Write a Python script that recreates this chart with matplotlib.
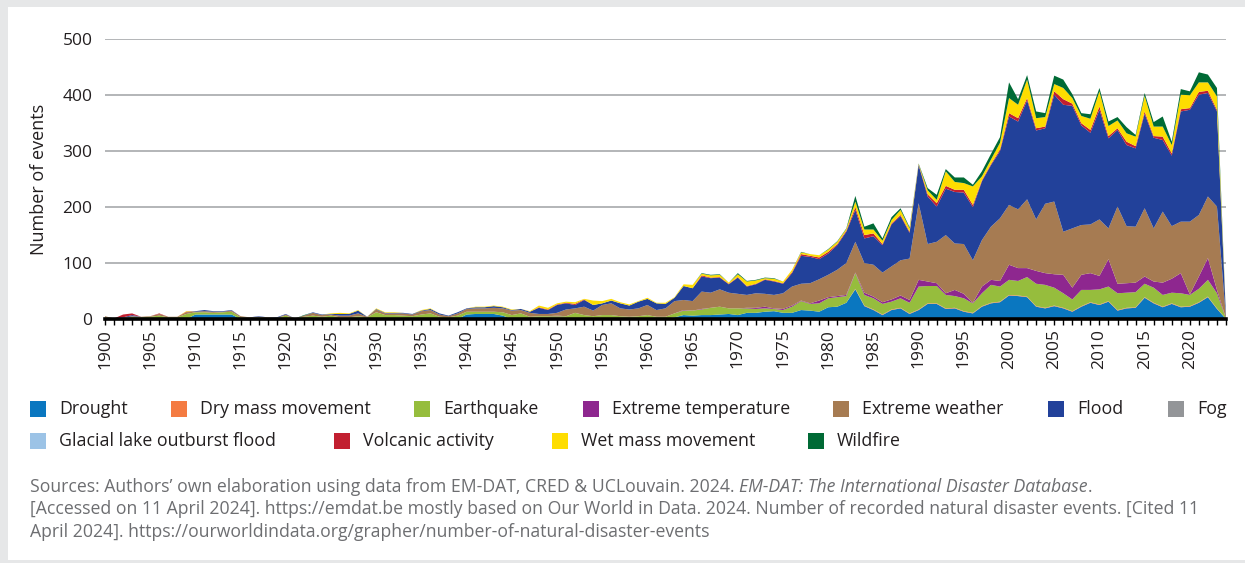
import numpy as np
import matplotlib
matplotlib.use("Agg")
import matplotlib.pyplot as plt
from matplotlib.patches import Rectangle
from matplotlib.ticker import MultipleLocator

plt.rcParams['font.family'] = ['Open Sans', 'DejaVu Sans']

years = list(range(1900, 2025))

# events per year (1900 ... 2024)
drought = [0, 0, 0, 0, 0, 0, 0, 0, 0, 0,
           8, 8, 8, 8, 8, 0, 0, 0, 0, 0,
           0, 0, 0, 0, 0, 0, 0, 0, 0, 0,
           0, 0, 0, 0, 0, 0, 0, 0, 0, 0,
           8, 9, 9, 9, 6, 0, 0, 0, 0, 0,
           0, 0, 0, 0, 0, 0, 0, 0, 0, 0,
           0, 0, 0, 3, 7, 6, 7, 7, 8, 9,
           7, 11, 11, 13, 14, 11, 11, 16, 15, 13,
           21, 22, 29, 53, 23, 16, 7, 16, 19, 9,
           16, 27, 27, 18, 19, 13, 10, 22, 28, 30,
           42, 41, 39, 22, 19, 23, 19, 13, 22, 29,
           25, 31, 15, 19, 20, 38, 28, 21, 27, 21,
           22, 29, 39, 18, 0]
dry_mass = [0] * 83 + [1] * 41 + [0]
earthquake = [3, 1, 2, 4, 3, 4, 6, 3, 3, 9,
              4, 4, 3, 4, 5, 3, 2, 3, 2, 2,
              6, 1, 4, 6, 4, 6, 3, 3, 5, 3,
              12, 7, 7, 6, 5, 8, 10, 4, 3, 6,
              5, 4, 4, 4, 6, 7, 10, 4, 5, 5,
              5, 5, 11, 7, 5, 7, 7, 5, 4, 5,
              7, 4, 4, 7, 8, 9, 10, 13, 14, 10,
              12, 8, 7, 6, 4, 5, 11, 16, 12, 15,
              16, 17, 12, 28, 19, 20, 19, 14, 17, 19,
              41, 31, 31, 24, 21, 23, 17, 23, 32, 27,
              27, 26, 35, 40, 41, 32, 26, 21, 29, 22,
              27, 26, 30, 27, 27, 24, 27, 21, 19, 24,
              20, 24, 30, 27, 1]
extreme_temp = [0] * 50 + [1] + [0] * 13 + [1, 0, 1, 0, 0, 0,
                0, 1, 2, 3, 1, 2, 2, 1, 1, 5,
                2, 2, 2, 1, 4, 3, 3, 4, 5, 5,
                12, 8, 5, 3, 11, 8, 1, 12, 9, 10,
                27, 23, 16, 23, 21, 24, 33, 21, 27, 30,
                24, 49, 17, 17, 17, 13, 11, 22, 25, 36,
                1, 22, 39, 6, 0]
extreme_weather = [2, 0, 0, 1, 1, 1, 3, 1, 1, 3,
                   1, 2, 2, 1, 2, 2, 1, 1, 1, 0,
                   2, 0, 2, 5, 3, 2, 3, 3, 5, 1,
                   5, 3, 3, 4, 3, 6, 6, 4, 2, 4,
                   5, 6, 6, 7, 7, 8, 6, 7, 4, 4,
                   5, 12, 8, 15, 10, 18, 21, 14, 13, 14,
                   18, 12, 15, 22, 18, 17, 31, 27, 31, 28,
                   26, 23, 26, 23, 24, 28, 34, 30, 36, 38,
                   40, 47, 57, 55, 53, 57, 53, 59, 63, 74,
                   137, 67, 74, 104, 83, 89, 76, 83, 95, 112,
                   107, 105, 123, 92, 124, 130, 77, 106, 89, 87,
                   101, 55, 138, 102, 100, 122, 95, 127, 94, 92,
                   130, 110, 110, 149, 1]
flood = [0, 0, 1, 2, 0, 0, 0, 0, 0, 0,
         1, 2, 1, 1, 1, 0, 0, 1, 0, 1,
         1, 0, 0, 1, 1, 1, 3, 3, 5, 0,
         1, 1, 1, 1, 1, 1, 2, 2, 1, 2,
         1, 2, 2, 3, 2, 1, 2, 2, 11, 7,
         14, 11, 6, 12, 10, 3, 5, 9, 7, 12,
         11, 12, 8, 6, 25, 23, 27, 26, 21, 15,
         29, 15, 16, 25, 24, 17, 24, 50, 47, 36,
         38, 44, 56, 57, 44, 51, 49, 75, 79, 46,
         68, 85, 63, 83, 92, 92, 95, 105, 110, 120,
         158, 157, 177, 159, 135, 191, 227, 219, 178, 164,
         196, 161, 137, 145, 140, 169, 162, 128, 126, 197,
         200, 215, 185, 170, 2]
fog = [0] * 125
glacial_flood = [0] * 125
volcanic = [0, 0, 5, 3, 0, 0, 1, 0, 0, 1,
            0, 0, 0, 0, 0, 0, 0, 0, 0, 0,
            0, 0, 0, 0, 0, 0, 0, 0, 0, 0,
            0, 0, 0, 0, 0, 0, 0, 0, 0, 0,
            0, 0, 0, 0, 0, 0, 0, 0, 1, 1,
            1, 1, 2, 1, 0, 0, 0, 0, 0, 0,
            0, 0, 0, 0, 0, 0, 2, 1, 1, 1,
            1, 1, 1, 1, 1, 1, 2, 3, 2, 3,
            3, 2, 2, 5, 6, 5, 2, 2, 2, 2,
            1, 4, 6, 5, 4, 5, 4, 2, 2, 3,
            6, 6, 4, 4, 3, 6, 10, 4, 4, 5,
            6, 4, 3, 6, 4, 4, 3, 6, 4, 4,
            3, 5, 4, 3, 0]
wet_mass = [0, 0, 0, 0, 0, 0, 0, 0, 0, 1,
            0, 0, 0, 0, 0, 0, 0, 0, 0, 0,
            0, 0, 0, 0, 0, 1, 2, 1, 1, 0,
            1, 1, 1, 0, 0, 1, 1, 0, 0, 0,
            0, 1, 1, 1, 1, 1, 0, 1, 3, 3,
            2, 2, 3, 1, 8, 4, 3, 2, 2, 1,
            2, 1, 2, 1, 3, 6, 3, 4, 4, 2,
            5, 8, 6, 2, 4, 3, 4, 3, 3, 4,
            4, 4, 3, 10, 10, 7, 6, 6, 9, 6,
            1, 7, 6, 26, 14, 12, 33, 7, 8, 12,
            27, 24, 33, 18, 17, 13, 20, 10, 13, 20,
            27, 18, 14, 15, 17, 28, 17, 18, 15, 26,
            23, 17, 15, 24, 0]
wildfire = [0] * 22 + [1] + [0] * 43 + [1, 1, 1, 0,
            2, 1, 1, 1, 1, 0, 0, 1, 0, 0,
            1, 1, 1, 10, 5, 11, 4, 5, 3, 2,
            1, 4, 9, 4, 8, 10, 3, 9, 10, 10,
            28, 10, 8, 12, 7, 15, 15, 7, 5, 8,
            6, 8, 6, 11, 3, 5, 8, 18, 6, 10,
            7, 18, 14, 15, 0]

labels = ['Drought', 'Dry mass movement', 'Earthquake', 'Extreme temperature',
          'Extreme weather', 'Flood', 'Fog', 'Glacial lake outburst flood',
          'Volcanic activity', 'Wet mass movement', 'Wildfire']
colors = ['#0a77c0', '#f47b42', '#96bd3d', '#8e278f', '#a67b52', '#22419a',
          '#939598', '#9cc3e6', '#c21f30', '#fedd00', '#006a35']
series = [drought, dry_mass, earthquake, extreme_temp, extreme_weather, flood,
          fog, glacial_flood, volcanic, wet_mass, wildfire]

W, H = 1245, 563
fig = plt.figure(figsize=(W / 100, H / 100), dpi=100)
fig.patch.set_facecolor('#e6e7e8')
fig.add_artist(Rectangle((8 / W, 3 / H), 1 - 8 / W, 553 / H, transform=fig.transFigure,
                         facecolor='white', edgecolor='none', zorder=0))

ax = fig.add_axes([105 / W, 1 - 319 / H, 1121 / W, 279.7 / H])
ax.patch.set_alpha(0)
ax.stackplot(years, *series, colors=colors, linewidth=0, zorder=3)

ax.set_xlim(1900, 2024)
ax.set_ylim(0, 500)
ax.set_yticks([0, 100, 200, 300, 400, 500])
ax.grid(axis='y', color='#a7a9ac', linewidth=1.2, zorder=1)
ax.set_axisbelow(True)
for s in ['top', 'right', 'left']:
    ax.spines[s].set_visible(False)
ax.spines['bottom'].set_linewidth(2.6)
ax.spines['bottom'].set_color('black')
ax.spines['bottom'].set_zorder(5)

ax.xaxis.set_major_locator(MultipleLocator(5))
ax.xaxis.set_minor_locator(MultipleLocator(1))
ax.tick_params(axis='x', which='both', direction='out', length=4.5, width=1,
               color='black', pad=2.5)
ax.tick_params(axis='x', which='major', labelsize=12.5, labelcolor='#231f20',
               labelrotation=90)
ax.tick_params(axis='y', length=0, pad=9, labelsize=12.5, labelcolor='#231f20')
ax.set_ylabel('Number of events', fontsize=13, color='#231f20')
ax.yaxis.set_label_coords(-0.051, 0.5)

# legend, laid out as in the source figure
leg_fs = 12.8
leg_x = [30, 171, 414, 583, 833, 1048, 1168, 30, 334, 552, 808]
leg_y = [408.5] * 7 + [441] * 4
for lab, col, lx, ly in zip(labels, colors, leg_x, leg_y):
    fig.add_artist(Rectangle((lx / W, 1 - (ly + 8) / H), 16 / W, 16 / H,
                             transform=fig.transFigure, facecolor=col,
                             edgecolor='none'))
    fig.text((lx + 29) / W, 1 - ly / H, lab, fontsize=leg_fs, color='#231f20',
             va='center', ha='left')

src_col = '#6d6e71'
src_fs = 12.7
renderer = fig.canvas.get_renderer()
t1 = fig.text(30 / W, 1 - 487 / H,
              'Sources: Authors\u2019 own elaboration using data from EM-DAT, CRED & UCLouvain. 2024. ',
              fontsize=src_fs, color=src_col, va='center', ha='left')
bb = t1.get_window_extent(renderer)
t2 = fig.text(bb.x1 / W, 1 - 487 / H, 'EM-DAT: The International Disaster Database',
              fontsize=src_fs, color=src_col, va='center', ha='left', style='italic')
bb2 = t2.get_window_extent(renderer)
fig.text(bb2.x1 / W, 1 - 487 / H, '.', fontsize=src_fs, color=src_col,
         va='center', ha='left')
fig.text(30 / W, 1 - 509.5 / H,
         '[Accessed on 11 April 2024]. https://emdat.be mostly based on Our World in Data. 2024. '
         'Number of recorded natural disaster events. [Cited 11',
         fontsize=src_fs, color=src_col, va='center', ha='left')
fig.text(30 / W, 1 - 532 / H,
         'April 2024]. https://ourworldindata.org/grapher/number-of-natural-disaster-events',
         fontsize=src_fs, color=src_col, va='center', ha='left')

fig.savefig('out.png', dpi=100, facecolor=fig.get_facecolor())
